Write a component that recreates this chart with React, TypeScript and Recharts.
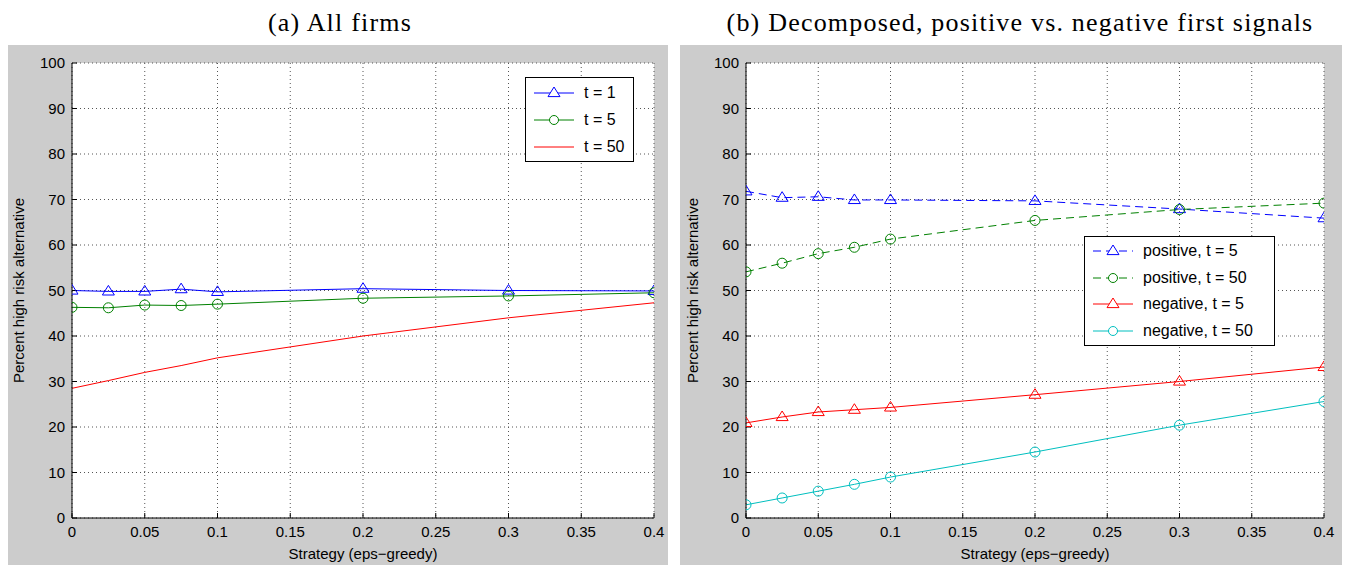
import React from 'react';
import { LineChart, Line, XAxis, YAxis, CartesianGrid } from 'recharts';

const strategies = [0, 0.025, 0.05, 0.075, 0.1, 0.2, 0.3, 0.4];
const allT1 = [50.0, 49.8, 49.8, 50.3, 49.7, 50.4, 50.0, 49.9];
const allT5 = [46.3, 46.2, 46.8, 46.7, 47.0, 48.3, 48.8, 49.5];
const allT50 = [28.5, 30.2, 32.0, 33.5, 35.2, 40.0, 44.0, 47.3];
const posT5 = [71.8, 70.4, 70.6, 69.9, 69.9, 69.7, 67.9, 65.9];
const posT50 = [54.1, 56.0, 58.1, 59.5, 61.3, 65.4, 67.8, 69.2];
const negT5 = [20.9, 22.2, 23.3, 23.8, 24.3, 27.1, 30.0, 33.2];
const negT50 = [2.9, 4.4, 5.9, 7.4, 9.0, 14.5, 20.4, 25.6];
const xTicks = [0, 0.05, 0.1, 0.15, 0.2, 0.25, 0.3, 0.35, 0.4];
const yTicks = [0, 10, 20, 30, 40, 50, 60, 70, 80, 90, 100];

const dataA = strategies.map((s, i) => ({ s, t1: allT1[i], t5: allT5[i], t50: allT50[i] }));
const dataB = strategies.map((s, i) => ({ s, p5: posT5[i], p50: posT50[i], n5: negT5[i], n50: negT50[i] }));

const SANS = '"Liberation Sans", Arial, sans-serif';
const SERIF = '"Liberation Serif", "DejaVu Serif", serif';
const GRAY = '#cccccc';

const Tri = (color: string) => (props: any) => {
  const { cx, cy } = props;
  if (cx == null || cy == null) return <g />;
  const r = 6;
  return <path d={`M${cx},${cy - r} L${cx + r},${cy + r * 0.6} L${cx - r},${cy + r * 0.6} Z`} fill="none" stroke={color} strokeWidth={1} />;
};
const Circ = (color: string) => (props: any) => {
  const { cx, cy } = props;
  if (cx == null || cy == null) return <g />;
  return <circle cx={cx} cy={cy} r={5} fill="none" stroke={color} strokeWidth={1} />;
};

type LegItem = { label: string; color: string; marker: 'tri' | 'circ' | 'none'; dashed: boolean };

const LegendBox = ({ items, left, top, width, rowH }: { items: LegItem[]; left: number; top: number; width: number; rowH: number }) => (
  <div style={{ position: 'absolute', left, top, background: '#fff', border: '1px solid #000', width, boxSizing: 'border-box', padding: '1px 0', fontFamily: SANS, fontSize: 16, color: '#000' }}>
    {items.map((it) => (
      <div key={it.label} style={{ display: 'flex', alignItems: 'center', height: rowH }}>
        <svg width={52} height={20} style={{ marginLeft: 6, flex: 'none' }}>
          <line x1={2} y1={10} x2={42} y2={10} stroke={it.color} strokeWidth={1} strokeDasharray={it.dashed ? '8 5' : undefined} />
          {it.marker === 'tri' && <path d="M22,4 L28,13.6 L16,13.6 Z" fill="#fff" stroke={it.color} />}
          {it.marker === 'circ' && <circle cx={22} cy={10} r={4.5} fill="#fff" stroke={it.color} />}
        </svg>
        <span>{it.label}</span>
      </div>
    ))}
  </div>
);

const legA: LegItem[] = [
  { label: 't = 1', color: '#0000ff', marker: 'tri', dashed: false },
  { label: 't = 5', color: '#008000', marker: 'circ', dashed: false },
  { label: 't = 50', color: '#ff0000', marker: 'none', dashed: false },
];
const legB: LegItem[] = [
  { label: 'positive, t = 5', color: '#0000ff', marker: 'tri', dashed: true },
  { label: 'positive, t = 50', color: '#008000', marker: 'circ', dashed: true },
  { label: 'negative, t = 5', color: '#ff0000', marker: 'tri', dashed: false },
  { label: 'negative, t = 50', color: '#00bfbf', marker: 'circ', dashed: false },
];

const tickStyle = { fontFamily: SANS, fontSize: 15, fill: '#000' };

const axes = [
  <CartesianGrid key="g" stroke="#555" strokeDasharray="1 3" fill="#ffffff" />,
  <XAxis key="x" dataKey="s" type="number" domain={[0, 0.4]} ticks={xTicks} interval={0} tick={tickStyle}
    tickSize={-5} tickMargin={13} height={47} stroke="#000" allowDataOverflow
    label={{ value: 'Strategy (eps\u2212greedy)', position: 'insideBottom', offset: 6, style: { fontFamily: SANS, fontSize: 15, fill: '#000' } }} />,
  <XAxis key="xt" xAxisId="top" orientation="top" dataKey="s" type="number" domain={[0, 0.4]} ticks={xTicks} interval={0}
    tick={() => <g />} tickSize={-5} height={0} stroke="#000" />,
  <YAxis key="y" type="number" domain={[0, 100]} ticks={yTicks} interval={0} tick={tickStyle}
    tickSize={-5} tickMargin={12} width={45} stroke="#000"
    label={{ value: 'Percent high risk alternative', angle: -90, position: 'insideLeft', offset: -8, style: { fontFamily: SANS, fontSize: 15, fill: '#000', textAnchor: 'middle' } }} />,
  <YAxis key="yr" yAxisId="right" orientation="right" type="number" domain={[0, 100]} ticks={yTicks} interval={0}
    tick={() => <g />} tickSize={-5} width={0} stroke="#000" />,
];

const titleStyle: React.CSSProperties = { position: 'absolute', top: 0, width: 680, textAlign: 'center', fontFamily: SERIF, fontSize: 26, letterSpacing: 1.2, whiteSpace: 'nowrap' };

export default function App() {
  return (
    <div style={{ position: 'relative', width: 1358, height: 567 }}>
      <div style={{ ...titleStyle, left: -8 }}>(a) All firms</div>
      <div style={{ ...titleStyle, left: 672 }}>(b) Decomposed, positive vs. negative first signals</div>

      <div style={{ position: 'absolute', left: -1, top: 37, width: 661, height: 520, background: GRAY }}>
        <LineChart width={661} height={520} data={dataA} margin={{ top: 18, right: 14, bottom: 0, left: 20 }}>
          {axes}
          <Line dataKey="t1" stroke="#0000ff" strokeWidth={1} dot={Tri('#0000ff')} isAnimationActive={false} />
          <Line dataKey="t5" stroke="#008000" strokeWidth={1} dot={Circ('#008000')} isAnimationActive={false} />
          <Line dataKey="t50" stroke="#ff0000" strokeWidth={1} dot={false} isAnimationActive={false} />
        </LineChart>
      </div>
      <LegendBox items={legA} left={517} top={69} width={109} rowH={27} />

      <div style={{ position: 'absolute', left: 672, top: 37, width: 662, height: 520, background: GRAY }}>
        <LineChart width={662} height={520} data={dataB} margin={{ top: 18, right: 18, bottom: 0, left: 21 }}>
          {axes}
          <Line dataKey="p5" stroke="#0000ff" strokeWidth={1} strokeDasharray="8 5" dot={Tri('#0000ff')} isAnimationActive={false} />
          <Line dataKey="p50" stroke="#008000" strokeWidth={1} strokeDasharray="8 5" dot={Circ('#008000')} isAnimationActive={false} />
          <Line dataKey="n5" stroke="#ff0000" strokeWidth={1} dot={Tri('#ff0000')} isAnimationActive={false} />
          <Line dataKey="n50" stroke="#00bfbf" strokeWidth={1} dot={Circ('#00bfbf')} isAnimationActive={false} />
        </LineChart>
      </div>
      <LegendBox items={legB} left={1076} top={228} width={191} rowH={26.5} />
    </div>
  );
}
